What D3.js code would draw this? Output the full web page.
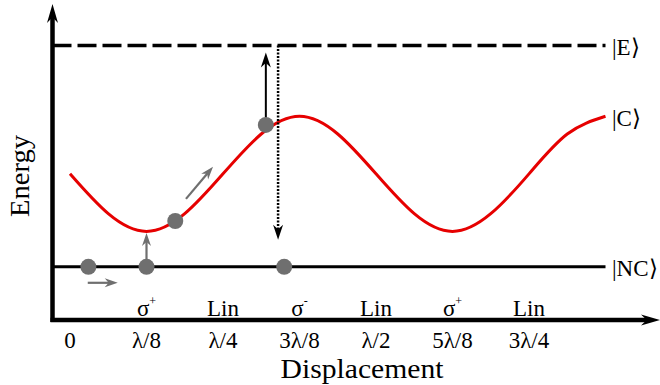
<!DOCTYPE html>
<html>
<head>
<meta charset="utf-8">
<script src="https://cdn.jsdelivr.net/npm/d3@7"></script>
<style>
  body { margin: 0; background: #fff; }
  text { font-family: "Liberation Serif", "Times New Roman", serif; fill: #000; }
</style>
</head>
<body>
<svg id="chart" width="660" height="385"></svg>
<script>
// displacement in units of lambda, energy in arbitrary units (|NC> = 0, |E> = 10)
const tickPos = [0, 1/8, 2/8, 3/8, 4/8, 5/8, 6/8];
const tickLabels = ["0", "λ/8", "λ/4", "3λ/8", "λ/2", "5λ/8", "3λ/4"];
const polPos = [1/8, 2/8, 3/8, 4/8, 5/8, 6/8];
const polBase = ["σ", "Lin", "σ", "Lin", "σ", "Lin"];
const polSup = ["+", "", "-", "", "+", ""];

// |C> potential read every lambda/16
const curveX = [0, 1/16, 2/16, 3/16, 4/16, 5/16, 6/16, 7/16, 8/16, 9/16, 10/16, 11/16, 12/16, 13/16, 14/16];
const curveE = [4.2, 2.4, 1.6, 2.4, 4.2, 6.0, 6.8, 6.0, 4.2, 2.4, 1.6, 2.4, 4.2, 6.0, 6.8];

const levelNames = ["|E⟩", "|C⟩", "|NC⟩"];
const levelE = [10, 6.8, 0];
const lineEnd = 7/8;

// atoms (grey dots)
const atomX = [0.03, 0.125, 0.35, 0.172, 0.32];
const atomE = [0, 0, 0, 2.07, 6.41];

const svg = d3.select("#chart");
const x = d3.scaleLinear().domain([0, 1]).range([70, 682]);
const y = d3.scaleLinear().domain([-2.4, 11.6]).range([320, 10]);

const grey = "#6f6f6f";

function arrow(x1, y1, x2, y2, color, w, len, wid, dash) {
  const a = Math.atan2(y2 - y1, x2 - x1);
  const c = Math.cos(a), s = Math.sin(a);
  svg.append("line")
    .attr("x1", x1).attr("y1", y1)
    .attr("x2", x2 - c * len * 0.6).attr("y2", y2 - s * len * 0.6)
    .attr("stroke", color).attr("stroke-width", w)
    .attr("stroke-dasharray", dash || null);
  const bx = x2 - c * len, by = y2 - s * len;
  const nx = x2 - c * len * 0.7, ny = y2 - s * len * 0.7;
  svg.append("path")
    .attr("d", `M${x2},${y2} L${bx - s * wid / 2},${by + c * wid / 2} L${nx},${ny} L${bx + s * wid / 2},${by - c * wid / 2} Z`)
    .attr("fill", color);
}

// axes
const x0 = 52.5;
arrow(x0, y(-2.4) + 2, x0, 4, "#000", 4.5, 19, 11);
arrow(x0 - 2, y(-2.4), 660, y(-2.4), "#000", 4.5, 19, 11);

// level lines
svg.append("line")
  .attr("x1", x0).attr("x2", x(lineEnd))
  .attr("y1", y(levelE[0])).attr("y2", y(levelE[0]))
  .attr("stroke", "#000").attr("stroke-width", 3.5)
  .attr("stroke-dasharray", "19,6");
svg.append("line")
  .attr("x1", x0).attr("x2", x(lineEnd))
  .attr("y1", y(levelE[2])).attr("y2", y(levelE[2]))
  .attr("stroke", "#000").attr("stroke-width", 3);

// |C> potential
svg.append("path")
  .datum(curveX.map((d, i) => [d, curveE[i]]))
  .attr("d", d3.line().x(d => x(d[0])).y(d => y(d[1])).curve(d3.curveNatural))
  .attr("fill", "none").attr("stroke", "#e60000").attr("stroke-width", 3);

// level labels
svg.selectAll("text.level").data(levelNames).enter().append("text")
  .attr("class", "level")
  .attr("x", 612).attr("y", (d, i) => y(levelE[i]) + 2)
  .attr("dominant-baseline", "central")
  .attr("font-size", 23)
  .text(d => d);

// process arrows
arrow(x(0.029), y(-0.72), x(0.078), y(-0.72), grey, 2.2, 13, 9);
arrow(x(0.125), y(0), x(0.125), y(1.53), grey, 2.2, 13, 9);
arrow(x(0.1895), y(3.07), x(0.2337), y(4.52), grey, 2.2, 13, 9);
arrow(x(0.32), y(6.41), x(0.32), y(9.68), "#000", 2, 15, 10);
arrow(x(0.34), y(10), x(0.34), y(1.22), "#000", 2.5, 15, 10, "2,1.5");

// atoms
svg.selectAll("circle.atom").data(atomX).enter().append("circle")
  .attr("class", "atom")
  .attr("cx", d => x(d)).attr("cy", (d, i) => y(atomE[i]))
  .attr("r", 8).attr("fill", grey);

// polarisation labels
const pol = svg.selectAll("text.pol").data(polPos).enter().append("text")
  .attr("class", "pol")
  .attr("x", d => x(d)).attr("y", 316)
  .attr("text-anchor", "middle")
  .attr("font-size", 23);
pol.append("tspan").text((d, i) => polBase[i]);
pol.append("tspan")
  .attr("dy", -11).attr("font-size", 12)
  .text((d, i) => polSup[i]);

// tick labels
svg.selectAll("text.tick").data(tickPos).enter().append("text")
  .attr("class", "tick")
  .attr("x", d => x(d)).attr("y", 348)
  .attr("text-anchor", "middle")
  .attr("font-size", 23)
  .text((d, i) => tickLabels[i]);

// axis titles
svg.append("text")
  .attr("x", 362).attr("y", 378)
  .attr("text-anchor", "middle")
  .attr("font-size", 27)
  .attr("textLength", 163).attr("lengthAdjust", "spacingAndGlyphs")
  .text("Displacement");
svg.append("text")
  .attr("transform", "translate(29,176) rotate(-90)")
  .attr("text-anchor", "middle")
  .attr("font-size", 27)
  .attr("textLength", 82).attr("lengthAdjust", "spacingAndGlyphs")
  .text("Energy");
</script>
</body>
</html>
